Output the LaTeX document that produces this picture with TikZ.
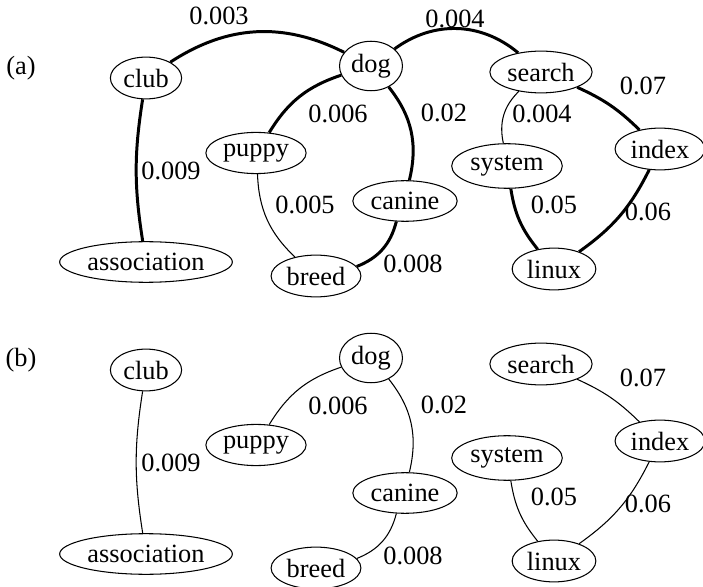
\documentclass[tikz,border=0pt]{standalone}
\usepackage{fontspec}
\setmainfont{Liberation Serif}
\usetikzlibrary{shapes.geometric}

\begin{document}
\begin{tikzpicture}[x=0.02cm, y=-0.02cm,
	word/.style={draw, ellipse, line width=0.6pt, inner xsep=0.05cm, inner ysep=0.11cm, font=\fontsize{15}{18}\selectfont},
	weight/.style={inner sep=0pt, font=\fontsize{15}{18}\selectfont},
	strong/.style={line width=1.7pt},
	weak/.style={line width=0.6pt}]
	\useasboundingbox (0,0) rectangle (703,587);
	% panel (a): words
	\node[weight] (a-tag) at (21,68) {(a)};
	\node[word] (a-club) at (146,78) {club};
	\node[word] (a-dog) at (371,66) {dog};
	\node[word] (a-search) at (541,72) {search};
	\node[word] (a-puppy) at (256,153) {puppy};
	\node[word] (a-canine) at (405,201) {canine};
	\node[word] (a-system) at (507,166) {system};
	\node[word] (a-index) at (660,149) {index};
	\node[word] (a-association) at (146,262) {association};
	\node[word] (a-breed) at (316,276) {breed};
	\node[word] (a-linux) at (554,269) {linux};
	% panel (a): links
	\draw [strong] (a-club) to[bend left=30] (a-dog);
	\draw [strong] (a-dog) to[bend left=38] (a-search);
	\draw [strong] (a-dog) to[bend right=20] (a-puppy);
	\draw [strong] (a-dog) to[bend left=26] (a-canine);
	\draw [weak] (a-puppy) to[bend right=22] (a-breed);
	\draw [strong] (a-canine) to[bend left=27] (a-breed);
	\draw [strong] (a-club) to[bend right=9] (a-association);
	\draw [weak] (a-search) to[bend right=29] (a-system);
	\draw [strong] (a-search) to[bend left=10] (a-index);
	\draw [strong] (a-system) to[bend right=15] (a-linux);
	\draw [strong] (a-index) to[bend left=14] (a-linux);
	% panel (a): weights
	\node[weight] (a-w1) at (219,16) {0.003};
	\node[weight] (a-w2) at (455,19) {0.004};
	\node[weight] (a-w3) at (338,114) {0.006};
	\node[weight] (a-w4) at (444,113) {0.02};
	\node[weight] (a-w5) at (542,114) {0.004};
	\node[weight] (a-w6) at (643,86) {0.07};
	\node[weight] (a-w7) at (171,171) {0.009};
	\node[weight] (a-w8) at (305,205) {0.005};
	\node[weight] (a-w9) at (413,264) {0.008};
	\node[weight] (a-w10) at (554,205) {0.05};
	\node[weight] (a-w11) at (648,212) {0.06};
	% panel (b)
	\begin{scope}[shift={(0,292)}]
		\node[weight] (b-tag) at (21,68) {(b)};
		\node[word] (b-club) at (146,78) {club};
		\node[word] (b-dog) at (371,66) {dog};
		\node[word] (b-search) at (541,72) {search};
		\node[word] (b-puppy) at (256,153) {puppy};
		\node[word] (b-canine) at (405,201) {canine};
		\node[word] (b-system) at (507,166) {system};
		\node[word] (b-index) at (660,149) {index};
		\node[word] (b-association) at (146,262) {association};
		\node[word] (b-breed) at (316,276) {breed};
		\node[word] (b-linux) at (554,269) {linux};
		\draw [weak] (b-club) to[bend right=9] (b-association);
		\draw [weak] (b-dog) to[bend right=20] (b-puppy);
		\draw [weak] (b-dog) to[bend left=26] (b-canine);
		\draw [weak] (b-canine) to[bend left=27] (b-breed);
		\draw [weak] (b-search) to[bend left=10] (b-index);
		\draw [weak] (b-system) to[bend right=15] (b-linux);
		\draw [weak] (b-index) to[bend left=14] (b-linux);
		\node[weight] (b-w7) at (171,171) {0.009};
		\node[weight] (b-w3) at (338,114) {0.006};
		\node[weight] (b-w4) at (444,113) {0.02};
		\node[weight] (b-w9) at (413,264) {0.008};
		\node[weight] (b-w6) at (643,86) {0.07};
		\node[weight] (b-w10) at (554,205) {0.05};
		\node[weight] (b-w11) at (648,212) {0.06};
	\end{scope}
\end{tikzpicture}
\end{document}
